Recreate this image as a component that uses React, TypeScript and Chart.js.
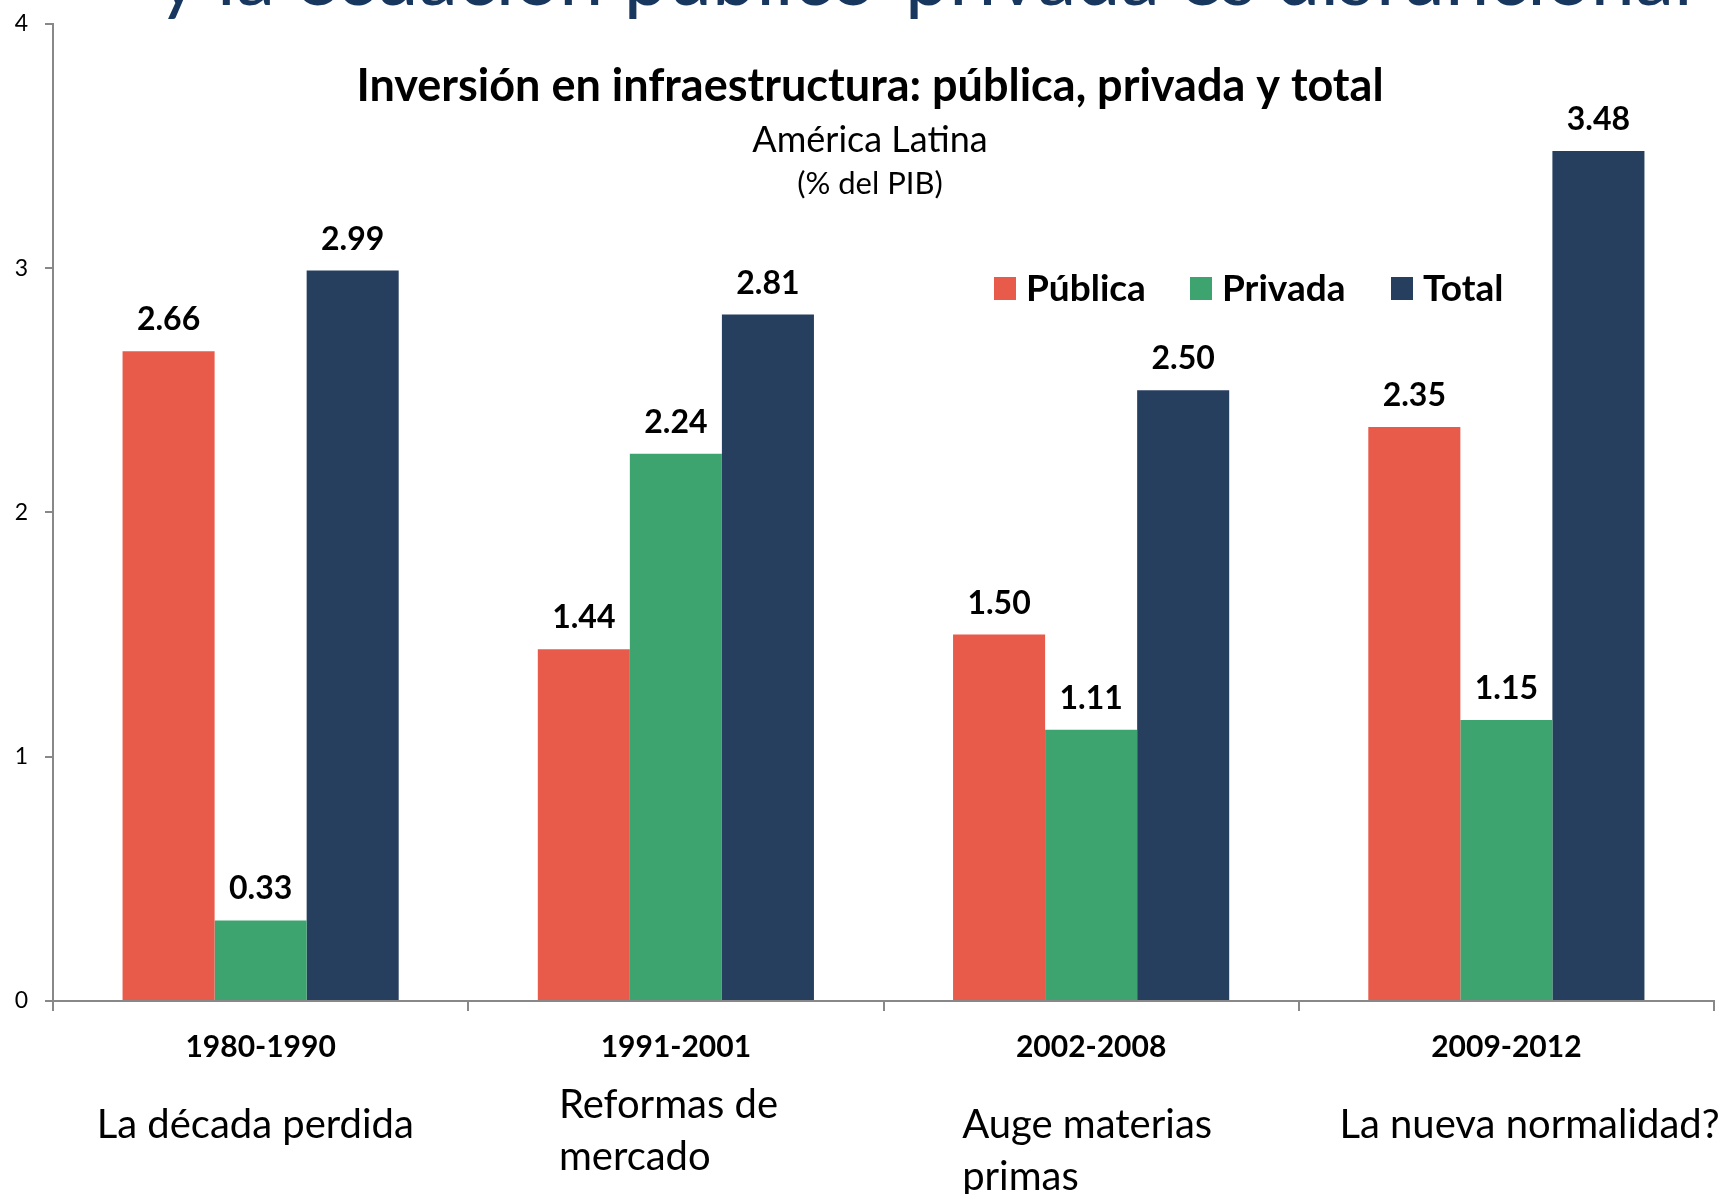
import React, { useEffect, useRef } from "react";
import { Chart, registerables } from "chart.js";

Chart.register(...registerables);

const FONT = "Lato, 'Open Sans', 'DejaVu Sans', sans-serif";

const SLIDE_TITLE = "y la ecuación público-privada es disfuncional";
const CHART_TITLE = "Inversión en infraestructura: pública, privada y total";
const CHART_SUBTITLE = "América Latina";
const CHART_UNIT = "(% del PIB)";

const periods = ["1980-1990", "1991-2001", "2002-2008", "2009-2012"];
const periodNotes: string[][] = [
  ["La década perdida"],
  ["Reformas de", "mercado"],
  ["Auge materias", "primas"],
  ["La nueva normalidad?"],
];

const seriesNames = ["Pública", "Privada", "Total"];
const publica = [2.66, 1.44, 1.5, 2.35];
const privada = [0.33, 2.24, 1.11, 1.15];
const total = [2.99, 2.81, 2.5, 3.48];

const yTicks = [0, 1, 2, 3, 4];

const COLORS = ["#E85B4B", "#3DA36F", "#263F5F"];

// layout constants (pixel offsets for annotation text)
const NOTE_OFFSETS = [-164, -117, -129, -167];
const NOTE_TOPS = [1125, 1105, 1125, 1125];
const NOTE_LINE = 52;

const overlayPlugin = {
  id: "overlayText",
  afterDatasetsDraw(chart: any) {
    const ctx = chart.ctx;
    ctx.save();
    ctx.fillStyle = "#000";
    ctx.textAlign = "center";
    ctx.textBaseline = "alphabetic";
    ctx.font = `bold 32px ${FONT}`;
    chart.data.datasets.forEach((ds: any, di: number) => {
      const meta = chart.getDatasetMeta(di);
      meta.data.forEach((bar: any, i: number) => {
        const v = ds.data[i] as number;
        ctx.fillText(v.toFixed(2), bar.x, bar.y - 21);
      });
    });
    ctx.restore();
  },
  afterDraw(chart: any) {
    const ctx = chart.ctx;
    ctx.save();
    ctx.fillStyle = "#000";
    ctx.textAlign = "center";
    ctx.textBaseline = "middle";
    ctx.font = `bold 45px ${FONT}`;
    ctx.fillText(CHART_TITLE, 870, 86);
    ctx.font = `36px ${FONT}`;
    ctx.fillText(CHART_SUBTITLE, 870, 140);
    ctx.font = `31px ${FONT}`;
    ctx.fillText(CHART_UNIT, 870, 184);

    // legend
    const legendX = [994, 1190, 1391];
    ctx.textAlign = "left";
    ctx.font = `bold 37px ${FONT}`;
    seriesNames.forEach((name, i) => {
      ctx.fillStyle = COLORS[i];
      ctx.fillRect(legendX[i], 277, 22, 23);
      ctx.fillStyle = "#000";
      ctx.fillText(name, legendX[i] + 32, 289);
    });

    // period notes
    const xs = chart.scales.x;
    ctx.font = `40px ${FONT}`;
    ctx.textAlign = "left";
    periodNotes.forEach((lines, i) => {
      const cx = xs.getPixelForValue(i);
      lines.forEach((line, li) => {
        ctx.fillText(line, cx + NOTE_OFFSETS[i], NOTE_TOPS[i] + li * NOTE_LINE);
      });
    });
    ctx.restore();
  },
};

export default function App() {
  const ref = useRef<HTMLCanvasElement | null>(null);

  useEffect(() => {
    if (!ref.current) return;
    const chart = new Chart(ref.current, {
      type: "bar",
      data: {
        labels: periods,
        datasets: [
          { label: seriesNames[0], data: publica, backgroundColor: COLORS[0] },
          { label: seriesNames[1], data: privada, backgroundColor: COLORS[1] },
          { label: seriesNames[2], data: total, backgroundColor: COLORS[2] },
        ],
      },
      options: {
        animation: false,
        responsive: false,
        maintainAspectRatio: false,
        layout: { padding: { top: 20, right: 10, left: 0, bottom: 0 } },
        datasets: { bar: { categoryPercentage: 0.665, barPercentage: 1.0 } },
        plugins: {
          legend: { display: false },
          tooltip: { enabled: false },
          title: { display: false },
        },
        scales: {
          x: {
            grid: {
              display: true,
              offset: true,
              drawOnChartArea: false,
              drawTicks: true,
              tickLength: 10,
              color: "#888888",
              lineWidth: 2,
            },
            border: { display: true, color: "#888888", width: 2 },
            ticks: {
              color: "#000",
              font: { family: FONT, size: 30, weight: "bold" },
              padding: 18,
              maxRotation: 0,
            },
            afterFit: (scale: any) => {
              scale.height = 193;
            },
          },
          y: {
            min: 0,
            max: 4,
            afterBuildTicks: (scale: any) => {
              scale.ticks = yTicks.map((v) => ({ value: v }));
            },
            grid: {
              display: true,
              drawOnChartArea: false,
              drawTicks: true,
              tickLength: 8,
              color: "#888888",
              lineWidth: 2,
            },
            border: { display: true, color: "#888888", width: 2 },
            ticks: {
              color: "#000",
              font: { family: FONT, size: 23, lineHeight: 0.6 },
              padding: 17,
            },
            afterFit: (scale: any) => {
              scale.width = 53;
            },
          },
        },
      },
      plugins: [overlayPlugin],
    });
    return () => chart.destroy();
  }, []);

  return (
    <div style={{ position: "absolute", left: 0, top: 0, width: 1724, height: 1194, background: "#fff", overflow: "hidden" }}>
      <div
        style={{
          position: "absolute",
          left: 0,
          top: 0,
          width: 1724,
          height: 20,
          overflow: "hidden",
        }}
      >
        <div
          style={{
            position: "absolute",
            left: 158,
            top: -72,
            whiteSpace: "nowrap",
            fontFamily: FONT,
            fontSize: 79,
            lineHeight: "94px",
            color: "#17375E",
          }}
        >
          {SLIDE_TITLE}
        </div>
      </div>
      <canvas ref={ref} width={1724} height={1194} style={{ position: "absolute", left: 0, top: 0 }} />
    </div>
  );
}
